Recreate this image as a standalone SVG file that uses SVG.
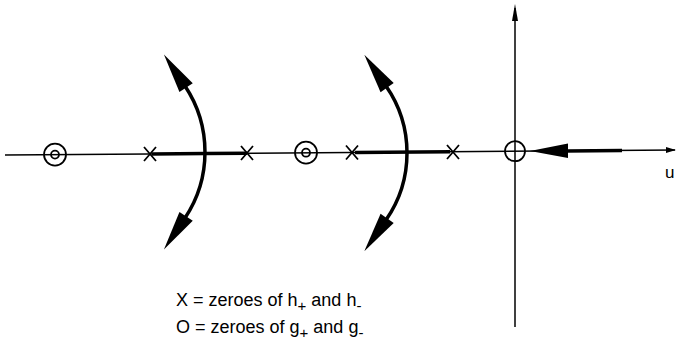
<svg xmlns="http://www.w3.org/2000/svg" width="681" height="349" viewBox="0 0 681 349">
<style>
.ax{stroke:#000;stroke-width:1.5;fill:none}
.thick{stroke:#000;stroke-width:3.5;fill:none}
.arc{stroke:#000;stroke-width:3.5;fill:none;marker-start:url(#head);marker-end:url(#head)}
.circ{stroke:#000;stroke-width:1.8;fill:none}
.xm{stroke:#000;stroke-width:1.8;fill:none}
text{font-family:"Liberation Sans",Arial,sans-serif;fill:#000}
.lbl{font-size:18px}
.sub{font-size:15px}
</style>
<defs>
<marker id="head" markerUnits="userSpaceOnUse" markerWidth="40" markerHeight="20" refX="0" refY="0" viewBox="0 -9 40 18" orient="auto-start-reverse" overflow="visible">
<path d="M-2,-8 L38,0 L-2,8 Z" fill="#000"/>
</marker>
<marker id="small" markerUnits="userSpaceOnUse" markerWidth="10" markerHeight="8" refX="9" refY="0" viewBox="0 -4 10 8" orient="auto" overflow="visible">
<path d="M0,-3 L10,0 L0,3 Z" fill="#000"/>
</marker>
</defs>
<g id="connectors">
<line id="real-axis" class="ax" x1="5" y1="155" x2="675" y2="150" marker-end="url(#small)"/>
<line id="imag-axis" class="ax" x1="515" y1="327" x2="515" y2="8"/>
<path d="M515,4 L512,21 L518,21 Z" fill="#000"/>
<line class="thick" x1="152" y1="153.9" x2="205" y2="153.5" stroke-width="4"/>
<line class="thick" x1="205" y1="153.5" x2="247" y2="153.2" stroke-width="3"/>
<line class="thick" x1="355" y1="152.4" x2="450" y2="151.7" stroke-width="3"/>
<line class="thick" x1="566" y1="150.9" x2="622" y2="150.5" stroke-width="3.5"/>
<path d="M530,151 L568,143.5 L568,158 Z" fill="#000"/>
<path id="arc1" class="arc" d="M185,86 A119,119 0 0 1 185,218"/>
<path id="arc2" class="arc" d="M386,86 A117.4,117.4 0 0 1 386,220"/>
</g>
<g id="node-o1"><circle class="circ" cx="55" cy="154.6" r="11"/><circle class="circ" cx="55" cy="154.6" r="4"/></g>
<g id="node-x1"><path class="xm" d="M144,147 L156,161 M156,147 L144,161"/></g>
<g id="node-x2"><path class="xm" d="M241,146 L253,160 M253,146 L241,160"/></g>
<g id="node-o2"><circle class="circ" cx="306" cy="152.7" r="11"/><circle class="circ" cx="306" cy="152.7" r="4"/></g>
<g id="node-x3"><path class="xm" d="M346,145.5 L358,159.5 M358,145.5 L346,159.5"/></g>
<g id="node-x4"><path class="xm" d="M447,145 L459,159 M459,145 L447,159"/></g>
<g id="node-origin"><circle class="circ" cx="515" cy="151.2" r="10"/></g>
<g id="labels">
<text x="665" y="178" font-size="17">u</text>
<text class="lbl" x="176" y="306">X = zeroes of h<tspan class="sub" dy="5">+</tspan><tspan dy="-5"> and h</tspan><tspan class="sub" dy="5">-</tspan></text>
<text class="lbl" x="176" y="333">O = zeroes of g<tspan class="sub" dy="5">+</tspan><tspan dy="-5"> and g</tspan><tspan class="sub" dy="5">-</tspan></text>
</g>
</svg>
